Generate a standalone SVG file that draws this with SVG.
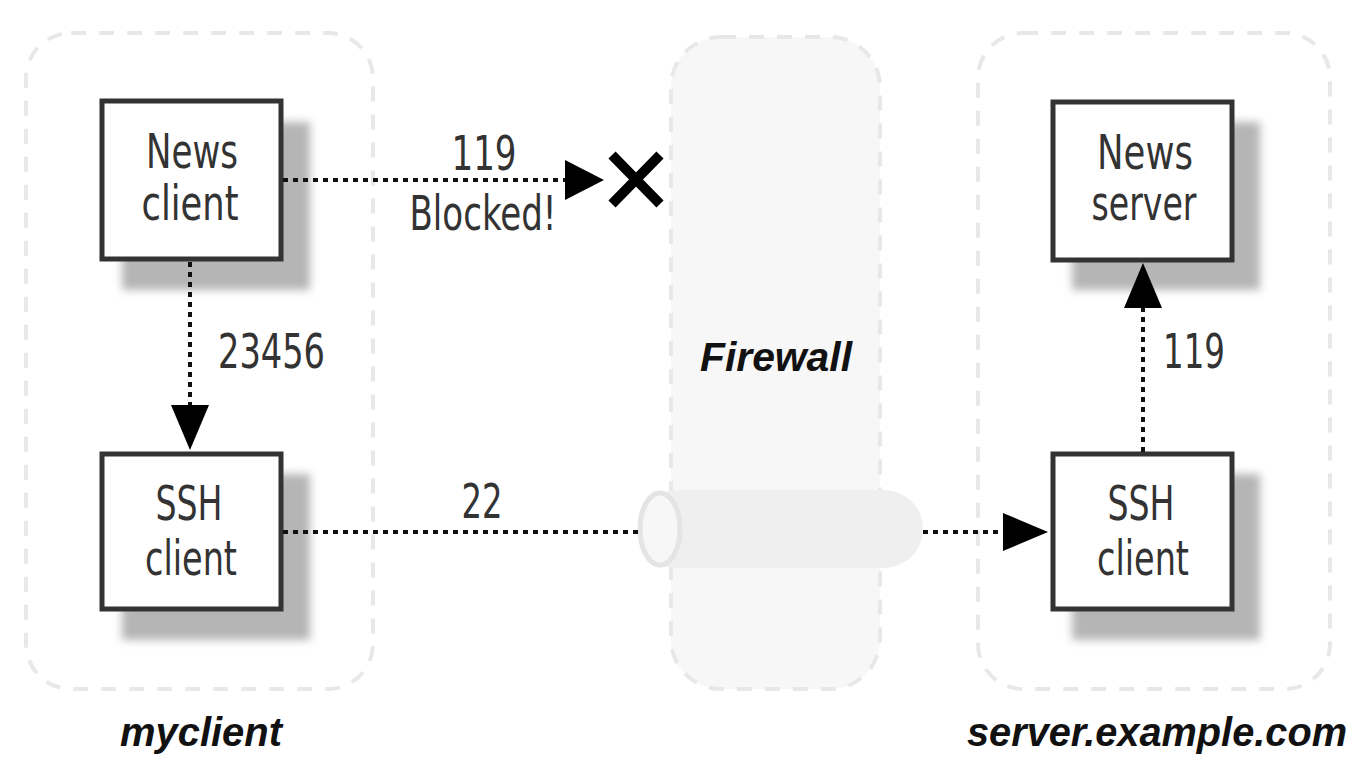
<svg xmlns="http://www.w3.org/2000/svg" width="1349" height="762" viewBox="0 0 1349 762">
<defs>
<filter id="sh" x="-20%" y="-20%" width="140%" height="140%"><feGaussianBlur stdDeviation="4"/></filter>
<style>
.zone{fill:none;stroke:#e8e8e8;stroke-width:4;stroke-dasharray:15 13}
.box{fill:#fff;stroke:#333;stroke-width:5}
.shadow{fill:#b5b5b5;filter:url(#sh)}
.lbl{font-family:"DejaVu Sans Condensed","Liberation Sans Narrow","Liberation Sans",sans-serif;font-size:48px;fill:#333;text-anchor:middle}
.num{font-family:"DejaVu Sans Condensed","Liberation Sans Narrow","Liberation Sans",sans-serif;font-size:48px;fill:#333}
.cap{font-family:"Liberation Sans","DejaVu Sans",sans-serif;font-size:40px;font-weight:bold;font-style:italic;fill:#111;text-anchor:middle}
.dot{fill:none;stroke:#111;stroke-width:4;stroke-dasharray:5 5}
</style>
</defs>
<g id="zones">
<rect class="zone" x="26" y="33" width="347" height="656" rx="45"/>
<rect class="zone" x="978" y="33" width="352" height="656" rx="45"/>
</g>
<g id="firewall">
<rect x="671" y="37" width="209" height="652" rx="50" fill="#f7f7f7" stroke="#e8e8e8" stroke-width="4" stroke-dasharray="15 13"/>
<text class="cap" x="776" y="371" textLength="152" lengthAdjust="spacingAndGlyphs">Firewall</text>
</g>
<g id="tunnel">
<rect x="638" y="490" width="285" height="78" rx="39" fill="#efefef"/>
<ellipse cx="660" cy="529" rx="20" ry="36" fill="#f7f7f7" stroke="#e4e4e4" stroke-width="5"/>
</g>
<g id="news-client">
<rect class="shadow" x="122" y="122" width="188" height="168"/>
<rect class="box" x="102" y="101" width="179" height="158"/>
<text class="lbl" x="192" y="168" textLength="92" lengthAdjust="spacingAndGlyphs">News</text>
<text class="lbl" x="190" y="220" textLength="97" lengthAdjust="spacingAndGlyphs">client</text>
</g>
<g id="ssh-client-left">
<rect class="shadow" x="122" y="474" width="188" height="166"/>
<rect class="box" x="102" y="454" width="179" height="155"/>
<text class="lbl" x="189" y="520" textLength="67" lengthAdjust="spacingAndGlyphs">SSH</text>
<text class="lbl" x="191" y="575" textLength="92" lengthAdjust="spacingAndGlyphs">client</text>
</g>
<g id="news-server">
<rect class="shadow" x="1072" y="122" width="188" height="168"/>
<rect class="box" x="1053" y="102" width="179" height="158"/>
<text class="lbl" x="1145" y="169" textLength="96" lengthAdjust="spacingAndGlyphs">News</text>
<text class="lbl" x="1144" y="220" textLength="105" lengthAdjust="spacingAndGlyphs">server</text>
</g>
<g id="ssh-client-right">
<rect class="shadow" x="1072" y="474" width="188" height="166"/>
<rect class="box" x="1053" y="454" width="179" height="155"/>
<text class="lbl" x="1141" y="520" textLength="67" lengthAdjust="spacingAndGlyphs">SSH</text>
<text class="lbl" x="1143" y="575" textLength="92" lengthAdjust="spacingAndGlyphs">client</text>
</g>
<g id="connectors">
<line class="dot" x1="283" y1="180" x2="568" y2="180"/>
<path d="M565,160 L604,180 L565,200 Z" fill="#000"/>
<path d="M612,155 L660,204 M660,155 L612,204" stroke="#000" stroke-width="10"/>
<text class="num" x="484" y="170" text-anchor="middle" textLength="65" lengthAdjust="spacingAndGlyphs">119</text>
<text class="num" x="483" y="230" text-anchor="middle" textLength="147" lengthAdjust="spacingAndGlyphs">Blocked!</text>
<line class="dot" x1="190" y1="262" x2="190" y2="410"/>
<path d="M171,405 L190,450 L209,405 Z" fill="#000"/>
<text class="num" x="218" y="368" textLength="107" lengthAdjust="spacingAndGlyphs">23456</text>
<line class="dot" x1="283" y1="532" x2="640" y2="532"/>
<text class="num" x="482" y="518" text-anchor="middle" textLength="41" lengthAdjust="spacingAndGlyphs">22</text>
<line class="dot" x1="923" y1="532" x2="1005" y2="532"/>
<path d="M1003,513 L1048,532 L1003,551 Z" fill="#000"/>
<line class="dot" x1="1143" y1="452" x2="1143" y2="305"/>
<path d="M1124,308 L1143,263 L1162,308 Z" fill="#000"/>
<text class="num" x="1163" y="368" textLength="62" lengthAdjust="spacingAndGlyphs">119</text>
</g>
<g id="captions">
<text class="cap" x="201" y="746" textLength="162" lengthAdjust="spacingAndGlyphs">myclient</text>
<text class="cap" x="1157" y="746" textLength="380" lengthAdjust="spacingAndGlyphs">server.example.com</text>
</g>
</svg>
